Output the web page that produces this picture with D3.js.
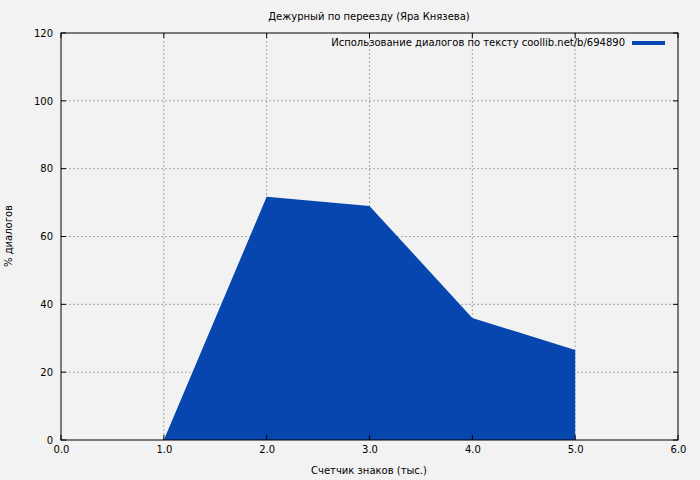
<!DOCTYPE html>
<html><head><meta charset="utf-8">
<script src="https://cdn.jsdelivr.net/npm/d3@7"></script>
<style>body{margin:0;background:#f2f2f2}svg{display:block}text{font-family:"DejaVu Sans",sans-serif;font-size:10px;fill:#000}</style>
</head><body><svg id="c" width="700" height="480"></svg>
<script>
const xValues=[1,2,3,4,5];
const yValues=[0,71.7,69,36,26.5];
const xTicks=[0,1,2,3,4,5,6];
const yTicks=[0,20,40,60,80,100,120];
const title="Дежурный по переезду (Яра Князева)";
const xLabel="Счетчик знаков (тыс.)";
const yLabel="% диалогов";
const legendLabel="Использование диалогов по тексту coollib.net/b/694890";

const svg=d3.select("#c");
svg.append("rect").attr("width",700).attr("height",480).attr("fill","#f2f2f2");
const L=61,R=678,T=33,B=440;
const x=d3.scaleLinear().domain([0,6]).range([L,R]);
const y=d3.scaleLinear().domain([0,120]).range([B,T]);
const g=svg.append("g");
xTicks.slice(1,-1).forEach(t=>g.append("line").attr("x1",x(t)).attr("x2",x(t)).attr("y1",T).attr("y2",B).attr("stroke","#888").attr("stroke-width",0.7).attr("stroke-dasharray","2,2"));
yTicks.slice(1,-1).forEach(t=>g.append("line").attr("x1",L).attr("x2",R).attr("y1",y(t)).attr("y2",y(t)).attr("stroke","#888").attr("stroke-width",0.7).attr("stroke-dasharray","2,2"));
const data=xValues.map((v,i)=>[v,yValues[i]]);
svg.append("path").datum(data).attr("fill","#0646ae")
 .attr("d",d3.area().x(d=>x(d[0])).y0(y(0)).y1(d=>y(d[1])));
svg.append("rect").attr("x",L).attr("y",T).attr("width",R-L).attr("height",B-T).attr("fill","none").attr("stroke","#000");
const xa=svg.append("g").attr("transform",`translate(0,${B})`).call(d3.axisBottom(x).tickValues(xTicks).tickSize(0).tickPadding(6));
xa.select(".domain").remove();
xTicks.forEach(t=>{svg.append("line").attr("x1",x(t)).attr("x2",x(t)).attr("y1",B).attr("y2",B-5).attr("stroke","#000");svg.append("line").attr("x1",x(t)).attr("x2",x(t)).attr("y1",T).attr("y2",T+5).attr("stroke","#000");});
const ya=svg.append("g").attr("transform",`translate(${L},0)`).call(d3.axisLeft(y).tickValues(yTicks).tickSize(0).tickPadding(8));
ya.select(".domain").remove();
yTicks.forEach(t=>{svg.append("line").attr("x1",L).attr("x2",L+5).attr("y1",y(t)).attr("y2",y(t)).attr("stroke","#000");svg.append("line").attr("x1",R).attr("x2",R-5).attr("y1",y(t)).attr("y2",y(t)).attr("stroke","#000");});
svg.selectAll(".tick text").style("font-family","DejaVu Sans").style("font-size","10px");
svg.append("text").attr("x",369).attr("y",20).attr("text-anchor","middle").text(title);
svg.append("text").attr("x",369).attr("y",474).attr("text-anchor","middle").text(xLabel);
svg.append("text").attr("transform","translate(12,236) rotate(-90)").attr("text-anchor","middle").text(yLabel);
svg.append("text").attr("x",625).attr("y",46).attr("text-anchor","end").text(legendLabel);
svg.append("rect").attr("x",632).attr("y",41).attr("width",33).attr("height",4).attr("fill","#0646ae");
</script></body></html>
